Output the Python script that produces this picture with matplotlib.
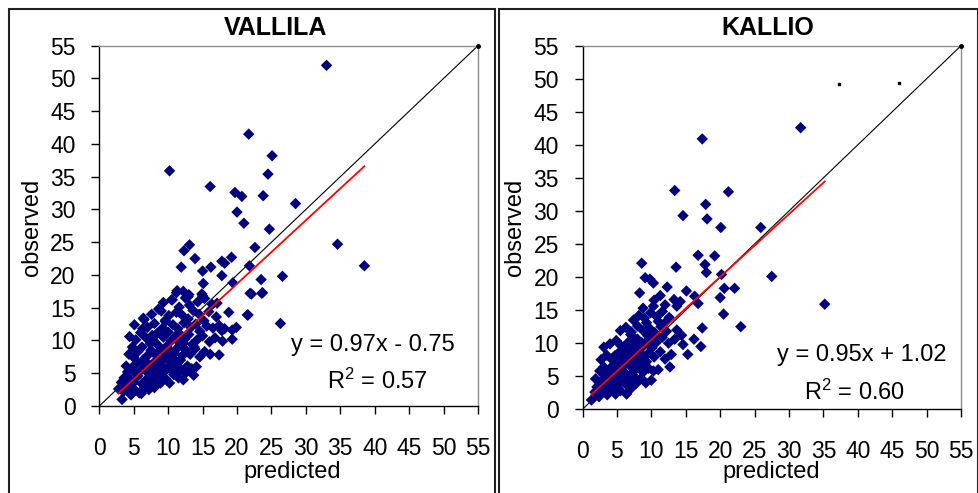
import numpy as np
import matplotlib
matplotlib.use("Agg")
import matplotlib.pyplot as plt
from matplotlib.patches import Rectangle

plt.rcParams['font.family'] = ['Liberation Sans', 'DejaVu Sans']

# ---- data (predicted, observed) ----
vallila_pred = [
    33.0, 21.7, 25.1, 10.2, 24.5, 16.1, 19.7, 20.7, 23.8, 28.5, 20.0, 21.0, 24.7, 34.6, 38.5,
    26.6, 26.3, 23.5, 23.7, 22.1, 21.6,
    13.1, 12.3, 13.9, 11.9, 15.0, 16.2, 17.8, 18.2, 19.2, 22.6, 21.8,
    11.3, 12.2, 12.9, 14.9, 15.3, 15.1, 17.8, 19.4, 21.9, 23.6, 17.1, 21.5, 19.9, 19.3, 17.8, 19.3, 17.4,
    10.5, 9.3, 12.5, 14.3, 15.0, 13.0, 16.4, 11.2, 10.6,
    6.4, 7.6, 9.0, 10.1, 11.2, 12.0, 13.6, 14.5, 15.9, 17.0, 8.6, 11.6, 13.1, 18.8,
    5.1, 7.0, 8.0, 9.2, 10.7, 11.4, 12.3, 13.3, 14.0, 15.6, 16.5, 17.4, 18.2, 9.6, 12.9, 15.2, 6.5,
    5.3, 6.8, 7.9, 9.3, 10.4, 11.0, 12.4, 13.0, 14.2, 15.0, 16.0, 16.8, 17.9, 8.4, 10.0, 11.7, 14.6, 6.0, 4.4,
    4.3, 5.6, 6.9, 7.5, 8.2, 9.0, 9.5, 10.1, 10.8, 11.3, 12.1, 12.6, 13.2, 13.9, 14.6, 15.3, 16.1,
    6.2, 8.6, 11.9, 13.5, 9.8, 7.4, 4.8,
    3.9, 4.7, 5.5, 6.1, 6.7, 7.3, 7.9, 8.5, 9.1, 9.7, 10.3, 10.9, 11.4, 12.0, 12.8, 13.4, 14.1,
    8.8, 6.4, 10.6, 5.0, 11.8,
    3.6, 4.5, 5.0, 5.6, 6.2, 6.9, 7.5, 8.3, 8.9, 9.6, 10.2, 10.8, 11.5, 12.2, 7.8, 5.3, 4.1, 9.2,
    3.3, 2.8, 3.5, 4.2, 4.6, 5.2, 5.8, 6.1, 6.6, 7.2, 8.0, 4.0, 3.2,
    7.1, 8.1, 9.4, 10.5, 11.1, 12.6, 13.7, 8.7, 9.9, 10.9, 12.2, 13.8, 7.7, 9.6, 11.6, 6.3,
    8.4, 9.7, 10.9, 12.0, 7.2, 8.9, 11.3, 10.2, 9.0, 11.9,
]
vallila_obs = [
    52.0, 41.5, 38.2, 35.9, 35.4, 33.5, 32.6, 32.0, 32.1, 30.9, 29.6, 27.9, 27.0, 24.7, 21.4,
    19.8, 12.6, 19.3, 17.3, 17.1, 13.9,
    24.6, 23.7, 22.5, 21.2, 20.6, 21.2, 22.1, 21.8, 22.7, 24.2, 21.4,
    17.6, 17.5, 16.7, 17.1, 16.4, 18.7, 19.9, 18.8, 17.2, 17.2, 15.7, 13.9, 12.0, 11.6, 11.5, 10.2, 7.8,
    16.2, 15.8, 16.5, 15.9, 16.8, 17.0, 15.5, 17.3, 16.2,
    13.4, 14.0, 14.5, 13.8, 14.3, 13.9, 14.6, 14.0, 14.4, 13.6, 14.8, 15.1, 15.4, 14.3,
    12.4, 12.0, 12.6, 11.9, 12.4, 11.8, 12.7, 12.0, 12.5, 12.2, 11.9, 12.3, 11.8, 13.1, 13.3, 13.0, 13.2,
    10.1, 10.4, 10.0, 10.5, 9.9, 10.6, 10.2, 10.9, 10.1, 10.7, 9.8, 10.4, 9.9, 11.1, 11.3, 11.0, 11.4, 11.2, 10.6,
    7.9, 8.3, 7.6, 8.5, 7.8, 8.4, 7.6, 8.6, 7.9, 8.8, 7.7, 8.5, 7.9, 8.7, 7.5, 8.3, 7.9,
    9.0, 9.2, 9.3, 9.4, 9.1, 9.5, 9.0,
    6.1, 5.8, 6.6, 5.5, 6.2, 5.7, 6.6, 5.9, 6.8, 5.6, 6.3, 5.7, 6.6, 5.5, 6.1, 5.7, 6.0,
    7.0, 7.1, 7.2, 7.4, 7.0,
    4.3, 4.0, 3.6, 4.6, 3.4, 4.1, 3.6, 4.4, 3.5, 4.2, 3.5, 4.8, 4.3, 4.0, 4.9, 5.0, 5.2, 5.0,
    1.0, 2.6, 2.2, 2.8, 1.7, 2.4, 2.0, 1.9, 2.9, 2.5, 2.8, 3.3, 3.6,
    5.0, 5.3, 5.2, 5.4, 4.9, 5.1, 4.7, 6.5, 7.4, 6.9, 9.6, 9.0, 10.8, 12.9, 9.7, 11.8,
    8.0, 7.4, 8.1, 9.4, 6.3, 6.1, 6.7, 8.2, 7.3, 10.4,
]

kallio_pred = [
    31.7, 17.4, 13.4, 21.2, 17.9, 14.6, 18.1, 20.1, 25.9,
    9.1, 9.8, 10.3, 8.6, 13.6, 17.8, 18.0, 20.2, 16.8, 19.2, 27.5, 35.2,
    10.4, 13.3, 14.2, 13.7, 16.3, 16.8, 20.0, 8.3, 15.1, 12.3, 20.6, 22.1, 11.3,
    7.4, 8.2, 9.0, 9.9, 10.8, 11.6, 12.6, 8.8, 10.3, 12.0, 20.5,
    5.5, 6.3, 7.1, 8.0, 8.8, 9.7, 10.5, 11.4, 12.2, 13.7, 17.4, 23.0, 9.3, 11.0,
    3.1, 4.0, 4.9, 5.6, 6.7, 7.4, 8.0, 9.0, 9.8, 10.7, 11.6, 12.5, 13.4, 14.6, 16.2, 17.2, 14.4, 7.0,
    2.7, 3.5, 4.2, 5.1, 5.9, 6.5, 7.2, 8.1, 8.7, 9.6, 10.4, 11.3, 12.0, 12.9, 15.3, 6.0, 8.4, 10.1,
    2.5, 3.1, 3.8, 4.4, 5.0, 5.7, 6.2, 6.9, 7.5, 8.2, 8.8, 9.6, 10.3, 11.0, 12.7, 4.8, 7.9, 9.3,
    1.9, 2.6, 3.2, 3.9, 4.5, 5.1, 5.8, 6.4, 7.1, 7.8, 8.5, 9.2, 10.0, 5.3, 3.6,
    1.3, 1.8, 2.4, 3.0, 3.6, 4.2, 4.8, 5.5, 6.4, 2.1, 3.4, 7.0,
    2.2, 2.9, 3.7, 4.6, 5.2, 6.0, 6.8, 7.6, 8.4, 9.1, 4.1, 5.4, 6.6, 7.3, 8.6, 10.6, 11.9,
    3.3, 4.3, 5.9, 6.8, 7.7, 8.9, 4.7, 6.1, 7.5, 9.5,
]
kallio_obs = [
    42.6, 40.9, 33.1, 32.9, 31.0, 29.3, 28.8, 27.5, 27.5,
    19.9, 19.7, 19.1, 22.1, 21.5, 21.9, 20.7, 20.4, 23.3, 23.2, 20.1, 15.9,
    16.5, 16.6, 16.3, 15.6, 17.1, 16.0, 16.9, 17.6, 17.9, 18.5, 18.3, 18.3, 17.2,
    13.5, 14.2, 13.8, 14.6, 14.0, 14.8, 13.9, 15.3, 15.6, 15.8, 14.4,
    11.9, 12.4, 11.7, 12.6, 11.9, 12.3, 11.6, 12.5, 11.8, 12.0, 12.3, 12.5, 13.1, 13.3,
    9.4, 9.9, 10.4, 9.6, 10.2, 9.7, 10.6, 9.9, 10.7, 10.1, 10.9, 10.0, 10.6, 9.8, 10.6, 9.5, 11.2, 11.3,
    7.5, 8.2, 7.6, 8.4, 7.8, 8.6, 7.7, 8.3, 7.6, 8.5, 7.9, 8.7, 7.6, 8.3, 8.3, 9.1, 9.2, 9.3,
    5.8, 6.4, 5.9, 6.6, 5.7, 6.3, 5.5, 6.6, 5.8, 6.4, 5.6, 6.2, 5.8, 6.0, 6.4, 7.0, 7.1, 7.2,
    4.6, 4.1, 4.8, 3.9, 4.6, 3.8, 4.4, 3.7, 4.5, 3.9, 4.7, 4.0, 4.4, 5.0, 5.3,
    1.4, 2.6, 1.9, 2.8, 2.2, 2.9, 2.3, 2.8, 2.3, 3.4, 3.5, 3.1,
    3.0, 3.3, 3.1, 2.9, 3.2, 4.8, 5.0, 4.9, 6.9, 7.0, 5.1, 7.2, 8.9, 9.0, 10.1, 11.4, 13.0,
    5.2, 5.6, 6.9, 7.3, 6.4, 8.0, 8.1, 9.5, 10.8, 11.1,
]

# stray specks visible in the KALLIO panel
kallio_speck_x = [37.3, 46.0]
kallio_speck_y = [49.2, 49.4]

panels = [
    ("VALLILA", vallila_pred, vallila_obs, 0.97, -0.75, "y = 0.97x - 0.75", "R$^2$ = 0.57"),
    ("KALLIO", kallio_pred, kallio_obs, 0.95, 1.02, "y = 0.95x + 1.02", "R$^2$ = 0.60"),
]

plt.rcParams['mathtext.fontset'] = 'custom'
plt.rcParams['mathtext.rm'] = 'Liberation Sans'
plt.rcParams['mathtext.it'] = 'Liberation Sans'
plt.rcParams['mathtext.default'] = 'regular'

W, H = 979, 493
fig = plt.figure(figsize=(W / 100, H / 100), dpi=100)


def fx(px):
    return px / W


def fy(py):
    return 1 - py / H


# pixel boxes of the two plot areas: (left, top, right, bottom)
boxes = [(99.3, 45.7, 478.0, 406.0), (582.5, 45.7, 961.0, 409.3)]
frames = [(9.3, 9.3, 495.0), (499.0, 9.3, 977.7)]
title_pos = [(276, 28), (768, 28)]
ylab_pos = [(32, 227), (515, 227)]
xlab_pos = [(292, 472), (771, 472)]
eq_pos = [((39.8, 9.3), (40.4, 3.7)), ((40.6, 8.2), (39.6, 2.6))]

ticks = np.arange(0, 56, 5)

for i, (name, xp, yo, slope, icpt, eq, r2) in enumerate(panels):
    l, t, r, b = boxes[i]
    ax = fig.add_axes([fx(l), fy(b), fx(r) - fx(l), fy(t) - fy(b)])
    ax.set_xlim(0, 55)
    ax.set_ylim(0, 55)
    ax.set_xticks(ticks)
    ax.set_yticks(ticks)
    ax.tick_params(direction='out', length=6, width=1, labelsize=16.5, colors='black')
    ax.tick_params(axis='x', pad=16)
    ax.tick_params(axis='y', pad=11)
    for s in ['top', 'right']:
        ax.spines[s].set_color('#8c8c8c')
        ax.spines[s].set_linewidth(1)
    for s in ['left', 'bottom']:
        ax.spines[s].set_color('black')
        ax.spines[s].set_linewidth(1)

    # 1:1 line
    ax.plot([0, 55], [0, 55], color='black', lw=0.8, zorder=2)
    ax.plot([55], [55], marker='o', ms=2.5, color='black', clip_on=False, zorder=4)

    ax.scatter(xp, yo, marker='D', s=34, color='#000080', edgecolors='none', zorder=3)

    # trendline over the data range
    xs = np.array([min(xp), max(xp)])
    ax.plot(xs, slope * xs + icpt, color='#ff0000', lw=1.3, zorder=4)

    (ex, ey), (rx, ry) = eq_pos[i]
    ax.text(ex, ey, eq, fontsize=17, ha='center', va='center', zorder=5)
    ax.text(rx, ry, r2, fontsize=17, ha='center', va='center', zorder=5)

    if name == "KALLIO":
        ax.scatter(kallio_speck_x, kallio_speck_y, marker='s', s=1.5, color='black', zorder=3)

    fig.text(fx(title_pos[i][0]), fy(title_pos[i][1]), name, fontsize=18,
             fontweight='bold', ha='center', va='center')
    fig.text(fx(ylab_pos[i][0]), fy(ylab_pos[i][1]), "observed", fontsize=17,
             rotation=90, ha='center', va='center')
    fig.text(fx(xlab_pos[i][0]), fy(xlab_pos[i][1]), "predicted", fontsize=17,
             ha='center', va='center')

    # outer chart frame (runs off the bottom edge)
    fl, ft, fr = frames[i]
    fig.add_artist(Rectangle((fx(fl), fy(H + 10)), fx(fr) - fx(fl), fy(ft) - fy(H + 10),
                             transform=fig.transFigure, fill=False, edgecolor='#202020',
                             lw=1.5))

fig.savefig("out.png", dpi=100)
